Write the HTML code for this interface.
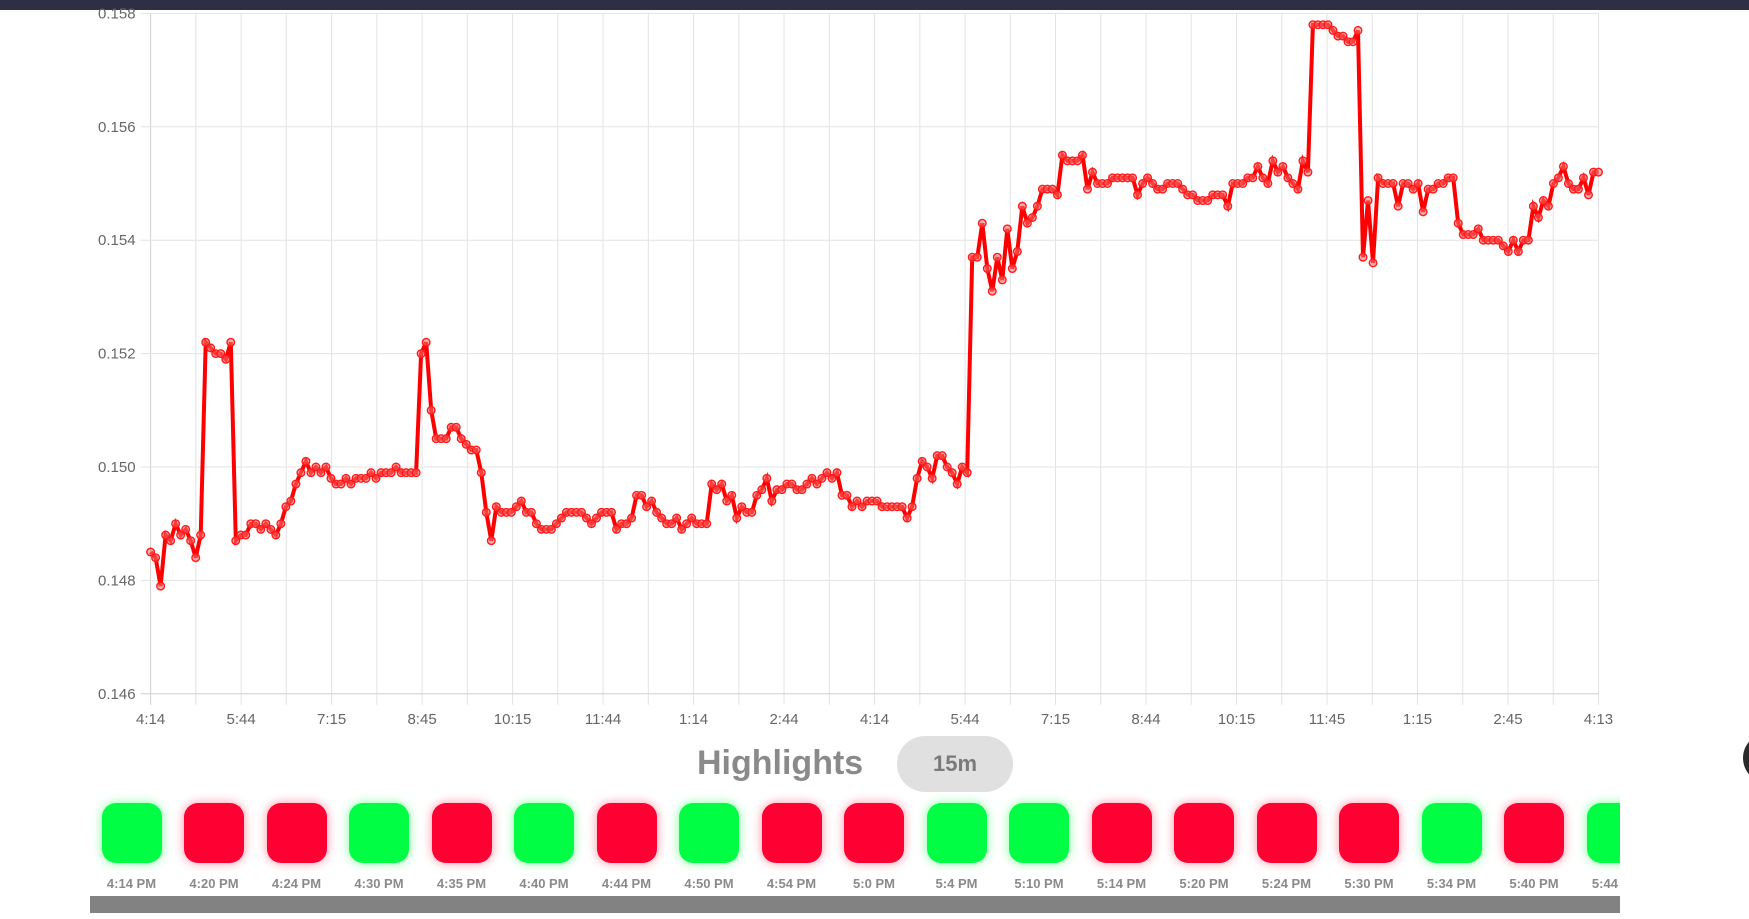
<!DOCTYPE html>
<html><head><meta charset="utf-8">
<style>
body{margin:0;width:1749px;height:919px;background:#fff;overflow:hidden;position:relative;font-family:"Liberation Sans",sans-serif;}
#topbar{position:absolute;left:0;top:0;width:1749px;height:10px;background:#2d2f45;}
#chart{position:absolute;left:0;top:0;}
#hl{position:absolute;left:697px;top:740px;font-size:34px;font-weight:bold;color:#8a8a8a;line-height:46px;}
#pill{position:absolute;left:897px;top:736px;width:116px;height:56px;border-radius:28px;background:#e0e0e0;color:#7a7a7a;font-weight:bold;font-size:22px;line-height:56px;text-align:center;}
#strip{position:absolute;left:90px;top:790px;width:1530px;height:106px;overflow:hidden;}
.box{position:absolute;top:13px;width:60px;height:60px;border-radius:14px;}
.g{background:#00ff44;box-shadow:0 0 10px #7dff9c;}
.r{background:#ff0033;box-shadow:0 0 10px #ff8fa3;}
.lb{position:absolute;top:86px;width:90px;text-align:center;font-size:13px;font-weight:bold;color:#8a8a8a;}
#scroll{position:absolute;left:90px;top:896px;width:1530px;height:17px;background:#828282;}
#circ{position:absolute;left:1743px;top:733px;width:50px;height:50px;border-radius:25px;background:#2a2a2a;}
</style></head><body>
<div id="topbar"></div>
<svg id="chart" width="1749" height="740"></svg>
<div id="hl">Highlights</div>
<div id="pill">15m</div>
<div id="strip"></div>
<div id="scroll"></div>
<div id="circ"></div>
<script>
const xLabels=["4:14","5:44","7:15","8:45","10:15","11:44","1:14","2:44","4:14","5:44","7:15","8:44","10:15","11:45","1:15","2:45","4:13"];
const yTicks=[0.146,0.148,0.150,0.152,0.154,0.156,0.158];
const prices=[0.1485,0.1484,0.1479,0.1488,0.1487,0.1490,0.1488,0.1489,0.1487,0.1484,0.1488,0.1522,0.1521,0.1520,0.1520,0.1519,0.1522,0.1487,0.1488,0.1488,0.1490,0.1490,0.1489,0.1490,0.1489,0.1488,0.1490,0.1493,0.1494,0.1497,0.1499,0.1501,0.1499,0.1500,0.1499,0.1500,0.1498,0.1497,0.1497,0.1498,0.1497,0.1498,0.1498,0.1498,0.1499,0.1498,0.1499,0.1499,0.1499,0.1500,0.1499,0.1499,0.1499,0.1499,0.1520,0.1522,0.1510,0.1505,0.1505,0.1505,0.1507,0.1507,0.1505,0.1504,0.1503,0.1503,0.1499,0.1492,0.1487,0.1493,0.1492,0.1492,0.1492,0.1493,0.1494,0.1492,0.1492,0.1490,0.1489,0.1489,0.1489,0.1490,0.1491,0.1492,0.1492,0.1492,0.1492,0.1491,0.1490,0.1491,0.1492,0.1492,0.1492,0.1489,0.1490,0.1490,0.1491,0.1495,0.1495,0.1493,0.1494,0.1492,0.1491,0.1490,0.1490,0.1491,0.1489,0.1490,0.1491,0.1490,0.1490,0.1490,0.1497,0.1496,0.1497,0.1494,0.1495,0.1491,0.1493,0.1492,0.1492,0.1495,0.1496,0.1498,0.1494,0.1496,0.1496,0.1497,0.1497,0.1496,0.1496,0.1497,0.1498,0.1497,0.1498,0.1499,0.1498,0.1499,0.1495,0.1495,0.1493,0.1494,0.1493,0.1494,0.1494,0.1494,0.1493,0.1493,0.1493,0.1493,0.1493,0.1491,0.1493,0.1498,0.1501,0.1500,0.1498,0.1502,0.1502,0.1500,0.1499,0.1497,0.1500,0.1499,0.1537,0.1537,0.1543,0.1535,0.1531,0.1537,0.1533,0.1542,0.1535,0.1538,0.1546,0.1543,0.1544,0.1546,0.1549,0.1549,0.1549,0.1548,0.1555,0.1554,0.1554,0.1554,0.1555,0.1549,0.1552,0.1550,0.1550,0.1550,0.1551,0.1551,0.1551,0.1551,0.1551,0.1548,0.1550,0.1551,0.1550,0.1549,0.1549,0.1550,0.1550,0.1550,0.1549,0.1548,0.1548,0.1547,0.1547,0.1547,0.1548,0.1548,0.1548,0.1546,0.1550,0.1550,0.1550,0.1551,0.1551,0.1553,0.1551,0.1550,0.1554,0.1552,0.1553,0.1551,0.1550,0.1549,0.1554,0.1552,0.1578,0.1578,0.1578,0.1578,0.1577,0.1576,0.1576,0.1575,0.1575,0.1577,0.1537,0.1547,0.1536,0.1551,0.1550,0.1550,0.1550,0.1546,0.1550,0.1550,0.1549,0.1550,0.1545,0.1549,0.1549,0.1550,0.1550,0.1551,0.1551,0.1543,0.1541,0.1541,0.1541,0.1542,0.1540,0.1540,0.1540,0.1540,0.1539,0.1538,0.1540,0.1538,0.1540,0.1540,0.1546,0.1544,0.1547,0.1546,0.1550,0.1551,0.1553,0.1550,0.1549,0.1549,0.1551,0.1548,0.1552,0.1552];
const boxColors=["g","r","r","g","r","g","r","g","r","r","g","g","r","r","r","r","g","r","g"];
const boxLabels=["4:14 PM","4:20 PM","4:24 PM","4:30 PM","4:35 PM","4:40 PM","4:44 PM","4:50 PM","4:54 PM","5:0 PM","5:4 PM","5:10 PM","5:14 PM","5:20 PM","5:24 PM","5:30 PM","5:34 PM","5:40 PM","5:44 PM"];

const X0=150.6,X1=1598.5,YT=13.4,YB=693.8,VMIN=0.146,VMAX=0.158;
const yS=v=>YB-(v-VMIN)/(VMAX-VMIN)*(YB-YT);
const xS=i=>X0+i*(X1-X0)/(prices.length-1);
const NS="http://www.w3.org/2000/svg";
const svg=document.getElementById('chart');
function mk(t,a){const e=document.createElementNS(NS,t);for(const k in a)e.setAttribute(k,a[k]);svg.appendChild(e);return e;}
const nV=(xLabels.length-1)*2;
for(let j=0;j<=nV;j++){const x=X0+j*(X1-X0)/nV;
 const l=mk('line',{x1:x,y1:YT,x2:x,y2:YB+11,stroke:j==0?'#cfcfcf':'#e3e3e3','stroke-width':1});
 }
yTicks.forEach(v=>{const y=yS(v);
 const l=mk('line',{x1:X0-10,y1:y,x2:X1,y2:y,stroke:v==VMIN?'#cfcfcf':'#e3e3e3','stroke-width':1});
 
 const t=mk('text',{x:X0-15,y:y+5,'text-anchor':'end','font-size':15,fill:'#666','font-family':'Liberation Sans, sans-serif'});
 t.textContent=v.toFixed(3);
 });
xLabels.forEach((s,j)=>{const x=X0+j*(X1-X0)/(xLabels.length-1);
 const t=mk('text',{x:x,y:724,'text-anchor':'middle','font-size':15,fill:'#666','font-family':'Liberation Sans, sans-serif'});
 t.textContent=s;
 });
const pts=prices.map((v,i)=>xS(i).toFixed(1)+','+yS(v).toFixed(1)).join(' ');
const pl=mk('polyline',{points:pts,fill:'none',stroke:'#ff0000','stroke-width':4,'stroke-linejoin':'miter'});

prices.forEach((v,i)=>{const c=mk('circle',{cx:xS(i),cy:yS(v),r:3.8,fill:'rgba(255,110,110,0.55)',stroke:'#ff1a1a','stroke-width':1.4});
 });
const strip=document.getElementById('strip');
boxColors.forEach((c,i)=>{const left=11.5+i*82.5;
 const b=document.createElement('div');b.className='box '+c;b.style.left=left+'px';
 
 
 strip.appendChild(b);
 const l=document.createElement('div');l.className='lb';l.style.left=(left-15)+'px';l.textContent=boxLabels[i];
 
 
 strip.appendChild(l);});
</script>
</body></html>
